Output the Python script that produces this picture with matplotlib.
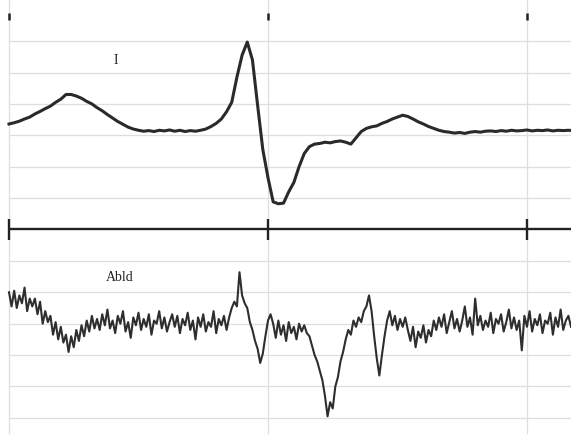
import numpy as np
import matplotlib
matplotlib.use("Agg")
import matplotlib.pyplot as plt

lead_i_step = 20  # ms
lead_i = [3.36, 3.40, 3.45, 3.52, 3.58, 3.68, 3.76, 3.85, 3.93, 4.05,
          4.15, 4.30, 4.30, 4.25, 4.18, 4.08, 4.00, 3.88, 3.78, 3.66,
          3.55, 3.44, 3.35, 3.26, 3.20, 3.16, 3.13, 3.15, 3.12, 3.16,
          3.14, 3.17, 3.13, 3.16, 3.12, 3.15, 3.13, 3.16, 3.20, 3.28,
          3.38, 3.52, 3.75, 4.05, 4.85, 5.55, 5.97, 5.40, 3.95, 2.55,
          1.65, 0.88, 0.82, 0.84, 1.20, 1.50, 2.00, 2.42, 2.64, 2.72,
          2.74, 2.78, 2.76, 2.80, 2.82, 2.78, 2.72, 2.92, 3.12, 3.22,
          3.27, 3.30, 3.38, 3.44, 3.52, 3.58, 3.64, 3.60, 3.52, 3.43,
          3.36, 3.28, 3.22, 3.16, 3.12, 3.10, 3.07, 3.09, 3.06, 3.10,
          3.12, 3.10, 3.13, 3.14, 3.12, 3.15, 3.13, 3.16, 3.14, 3.15,
          3.17, 3.14, 3.16, 3.15, 3.17, 3.14, 3.16, 3.15, 3.16, 3.15]

abld_step = 10  # ms
abld = [-2.0, -2.45, -1.95, -2.5, -2.1, -2.35, -1.85, -2.6, -2.2, -2.45,
        -2.2, -2.7, -2.3, -3.0, -2.6, -2.95, -2.75, -3.35, -2.95, -3.5,
        -3.1, -3.6, -3.35, -3.9,
        -3.4, -3.75, -3.2, -3.55, -3.05, -3.4, -2.9, -3.25, -2.75, -3.15,
        -2.85, -3.2, -2.7, -3.05, -2.55, -3.15, -2.9, -3.3, -2.75, -3.0,
        -2.6, -3.25, -2.95, -3.45, -2.8, -3.05, -2.65, -3.2, -2.85, -3.1,
        -2.7, -3.35, -2.9, -3.0, -2.6, -3.15, -2.8, -3.25, -2.95, -2.7,
        -3.1, -2.75, -3.3, -2.85, -3.05, -2.65, -3.2, -2.9, -3.5, -2.8,
        -3.1, -2.7, -3.25, -2.95, -3.1, -2.6, -3.3, -2.85, -3.05, -2.75,
        -3.2, -2.8,
        -2.5, -2.3, -2.45, -1.36, -2.1, -2.35, -2.5, -2.95, -3.2, -3.55,
        -3.8, -4.25, -3.95, -3.4, -2.9, -2.7,
        -3.0, -3.45, -2.9, -3.35, -3.05, -3.55, -2.95, -3.3, -3.1, -3.5,
        -3.0, -3.25, -3.05, -3.3,
        -3.4, -3.7, -4.0, -4.2, -4.5, -4.8, -5.3, -5.95, -5.5, -5.7,
        -5.0, -4.7, -4.2, -3.9, -3.5, -3.2, -3.35, -2.9, -3.1, -2.8,
        -2.95, -2.6, -2.45, -2.1, -2.6, -3.4, -4.1, -4.65, -4.0, -3.4,
        -2.9, -2.6,
        -3.05, -2.75, -3.2, -2.85, -3.1, -2.8,
        -3.2, -3.55, -3.1, -3.75, -3.25, -3.45, -3.05, -3.6, -3.2, -3.4,
        -2.9, -3.2, -2.8, -3.1, -2.7, -3.3, -2.95, -2.6, -3.15, -2.85,
        -3.25, -2.9, -2.45, -3.1, -2.8, -3.35, -2.2, -3.05, -2.75, -3.2,
        -2.9, -3.1, -2.65, -3.3, -2.85, -3.0, -2.7, -3.25, -2.95, -2.55,
        -3.15, -2.8, -3.2, -2.9, -3.85, -2.75, -3.1, -2.6, -3.25, -2.85,
        -3.05, -2.7, -3.3, -2.9, -3.0, -2.65, -3.35, -2.8, -3.1, -2.55,
        -3.2, -2.9, -2.75, -3.1]

second_marks = [0, 1000, 2000]
grid_rows = [-6, -5, -4, -3, -2, -1, 1, 2, 3, 4, 5, 6]

t_i = np.arange(len(lead_i)) * lead_i_step
t_abld = np.arange(len(abld)) * abld_step

fig = plt.figure(figsize=(5.71, 4.35), dpi=100)
ax = fig.add_axes([0, 0, 1, 1])
x0, x1 = -34.75, 2170
y0, y1 = -6.513, 7.341

ax.hlines(grid_rows, 0, x1, color="#dedede", lw=0.9, zorder=1)
ax.vlines(second_marks, y0, y1, color="#dedede", lw=0.9, zorder=1)
ax.hlines(0, 0, x1, color="#222222", lw=1.7, zorder=3)
ax.vlines(second_marks, -0.32, 0.32, color="#222222", lw=1.7, zorder=3)
ax.vlines(second_marks, 6.67, 6.89, color="#222222", lw=1.8, zorder=3)

ax.plot(t_i, lead_i, color="#2a2a2a", lw=2.2, zorder=4)
ax.plot(t_abld, abld, color="#2e2e2e", lw=1.5, zorder=4)

ax.text(413, 5.42, "I", family="Liberation Serif", fontsize=10,
        ha="center", va="center", color="#222222")
ax.text(429, -1.5, "Abld", family="Liberation Serif", fontsize=10,
        ha="center", va="center", color="#222222")

ax.set_xlim(x0, x1)
ax.set_ylim(y0, y1)
ax.axis("off")

fig.savefig("out.png", dpi=100)
